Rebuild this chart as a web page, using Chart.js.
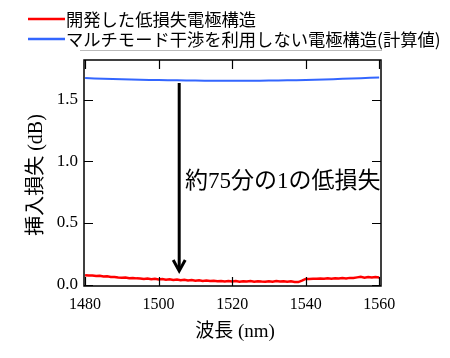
<!DOCTYPE html>
<html>
<head>
<meta charset="utf-8">
<title>挿入損失</title>
<style>
  html, body { margin: 0; padding: 0; background: #fff; }
  #wrap { width: 450px; height: 358px; }
</style>
</head>
<body>
<div id="wrap"><canvas id="chart" width="450" height="358"></canvas></div>

<script src="https://cdn.jsdelivr.net/npm/chart.js"></script>
<script>
  // measured loss of the new electrode (1 nm steps)
  const lowLossWl = [
    1480, 1481, 1482, 1483, 1484, 1485, 1486, 1487, 1488, 1489,
    1490, 1491, 1492, 1493, 1494, 1495, 1496, 1497, 1498, 1499,
    1500, 1501, 1502, 1503, 1504, 1505, 1506, 1507, 1508, 1509,
    1510, 1511, 1512, 1513, 1514, 1515, 1516, 1517, 1518, 1519,
    1520, 1521, 1522, 1523, 1524, 1525, 1526, 1527, 1528, 1529,
    1530, 1531, 1532, 1533, 1534, 1535, 1536, 1537, 1538, 1539,
    1540, 1541, 1542, 1543, 1544, 1545, 1546, 1547, 1548, 1549,
    1550, 1551, 1552, 1553, 1554, 1555, 1556, 1557, 1558, 1559, 1560
  ];
  const lowLossDb = [
    0.076, 0.073, 0.074, 0.069, 0.071, 0.066, 0.067, 0.062, 0.061, 0.057,
    0.056, 0.057, 0.051, 0.052, 0.050, 0.049, 0.045, 0.048, 0.043, 0.046,
    0.041, 0.044, 0.039, 0.042, 0.037, 0.040, 0.035, 0.038, 0.033, 0.036,
    0.031, 0.034, 0.029, 0.032, 0.028, 0.031, 0.026, 0.029, 0.025, 0.028,
    0.024, 0.028, 0.023, 0.027, 0.024, 0.028, 0.023, 0.027, 0.024, 0.022,
    0.027, 0.023, 0.028, 0.024, 0.027, 0.023, 0.026, 0.021, 0.020, 0.031,
    0.045, 0.044, 0.047, 0.046, 0.048, 0.047, 0.050, 0.047, 0.051, 0.049,
    0.052, 0.050, 0.054, 0.053, 0.058, 0.063, 0.056, 0.061, 0.057, 0.062, 0.058
  ];

  // calculated loss without multimode interference (5 nm steps)
  const calcWl = [1480, 1485, 1490, 1495, 1500, 1505, 1510, 1515, 1520,
                  1525, 1530, 1535, 1540, 1545, 1550, 1555, 1560];
  const calcDb = [1.678, 1.673, 1.668, 1.665, 1.662, 1.660, 1.658, 1.657, 1.657,
                  1.657, 1.658, 1.660, 1.663, 1.667, 1.672, 1.677, 1.683];

  const seriesNames = ["開発した低損失電極構造", "マルチモード干渉を利用しない電極構造(計算値)"];
  const xTicks = [1480, 1500, 1520, 1540, 1560];
  const yTicks = [0.0, 0.5, 1.0, 1.5];
  const xTitle = "波長 (nm)";
  const yTitle = "挿入損失 (dB)";
  const note = "約75分の1の低損失";
  const arrowWl = 1505.6, arrowFrom = 1.638, arrowTo = 0.11;

  const serifJp = '"Liberation Serif", "Noto Sans CJK JP"';

  // frame, inward ticks, titles, legend and the arrow note
  const decorations = {
    id: "decorations",
    afterDraw(chart) {
      const ctx = chart.ctx;
      const a = chart.chartArea;
      const xs = chart.scales.x, ys = chart.scales.y;
      ctx.save();

      ctx.strokeStyle = "#000";
      ctx.lineWidth = 1.5;
      ctx.strokeRect(a.left, a.top, a.right - a.left, a.bottom - a.top);

      ctx.lineWidth = 1.2;
      ctx.beginPath();
      xTicks.forEach(v => {
        const px = Math.round(xs.getPixelForValue(v)) + 0.5;
        ctx.moveTo(px, a.bottom); ctx.lineTo(px, a.bottom - 9);
        ctx.moveTo(px, a.top); ctx.lineTo(px, a.top + 9);
      });
      yTicks.forEach(v => {
        const py = Math.round(ys.getPixelForValue(v)) + 0.5;
        ctx.moveTo(a.left, py); ctx.lineTo(a.left + 9, py);
        ctx.moveTo(a.right, py); ctx.lineTo(a.right - 9, py);
      });
      ctx.stroke();

      // axis titles
      ctx.fillStyle = "#000";
      ctx.font = "19px " + serifJp;
      ctx.textAlign = "center";
      ctx.textBaseline = "middle";
      ctx.fillText(xTitle, 235, 332);
      ctx.save();
      ctx.translate(37, 175);
      ctx.rotate(-Math.PI / 2);
      ctx.font = "20px " + serifJp;
      ctx.fillText(yTitle, 0, 0);
      ctx.restore();

      // legend
      const ds = chart.data.datasets;
      ctx.font = '17.3px "Noto Sans CJK JP"';
      ctx.textAlign = "left";
      [19, 39].forEach((y, i) => {
        ctx.strokeStyle = ds[i].borderColor;
        ctx.lineWidth = 2.5;
        ctx.beginPath();
        ctx.moveTo(28, y); ctx.lineTo(65, y);
        ctx.stroke();
        ctx.fillText(ds[i].label, 66, y);
      });
      ctx.strokeStyle = "#bbb";
      ctx.lineWidth = 1;
      ctx.beginPath();
      ctx.moveTo(80, 50.5); ctx.lineTo(382, 50.5);
      ctx.stroke();

      // arrow
      const ax = xs.getPixelForValue(arrowWl);
      const y0 = ys.getPixelForValue(arrowFrom);
      const y1 = ys.getPixelForValue(arrowTo);
      ctx.strokeStyle = "#000";
      ctx.lineWidth = 3;
      ctx.beginPath();
      ctx.moveTo(ax, y0); ctx.lineTo(ax, y1 - 1);
      ctx.stroke();
      ctx.beginPath();
      ctx.moveTo(ax - 6, y1 - 11); ctx.lineTo(ax, y1); ctx.lineTo(ax + 6, y1 - 11);
      ctx.stroke();

      ctx.font = "23px " + serifJp;
      ctx.textAlign = "left";
      ctx.fillText(note, 185, 182);

      ctx.restore();
    }
  };

  new Chart(document.getElementById("chart"), {
    type: "line",
    data: {
      datasets: [
        {
          label: seriesNames[0],
          data: lowLossWl.map((w, i) => ({ x: w, y: lowLossDb[i] })),
          borderColor: "#ff0000",
          borderWidth: 2.5,
          pointRadius: 0,
          tension: 0
        },
        {
          label: seriesNames[1],
          data: calcWl.map((w, i) => ({ x: w, y: calcDb[i] })),
          borderColor: "#3366ff",
          borderWidth: 2,
          pointRadius: 0,
          tension: 0.4
        }
      ]
    },
    options: {
      responsive: false,
      animation: false,
      devicePixelRatio: 1,
      layout: { padding: { top: 60, right: 69, left: 0, bottom: 0 } },
      plugins: { legend: { display: false }, tooltip: { enabled: false } },
      scales: {
        x: {
          type: "linear",
          min: 1479.7,
          max: 1560.5,
          grid: { display: false, drawTicks: false },
          border: { display: false },
          afterFit: s => { s.height = 72; },
          afterBuildTicks: s => { s.ticks = xTicks.map(v => ({ value: v })); },
          ticks: {
            padding: 9,
            maxRotation: 0,
            color: "#000",
            font: { family: "Liberation Serif", size: 16 },
            callback: v => String(v)
          }
        },
        y: {
          min: -0.012,
          max: 1.825,
          grid: { display: false, drawTicks: false },
          border: { display: false },
          afterFit: s => { s.width = 84; },
          afterBuildTicks: s => { s.ticks = yTicks.map(v => ({ value: v })); },
          ticks: {
            padding: 6,
            color: "#000",
            font: { family: "Liberation Serif", size: 17 },
            callback: v => v.toFixed(1)
          }
        }
      }
    },
    plugins: [decorations]
  });
</script>
</body>
</html>
